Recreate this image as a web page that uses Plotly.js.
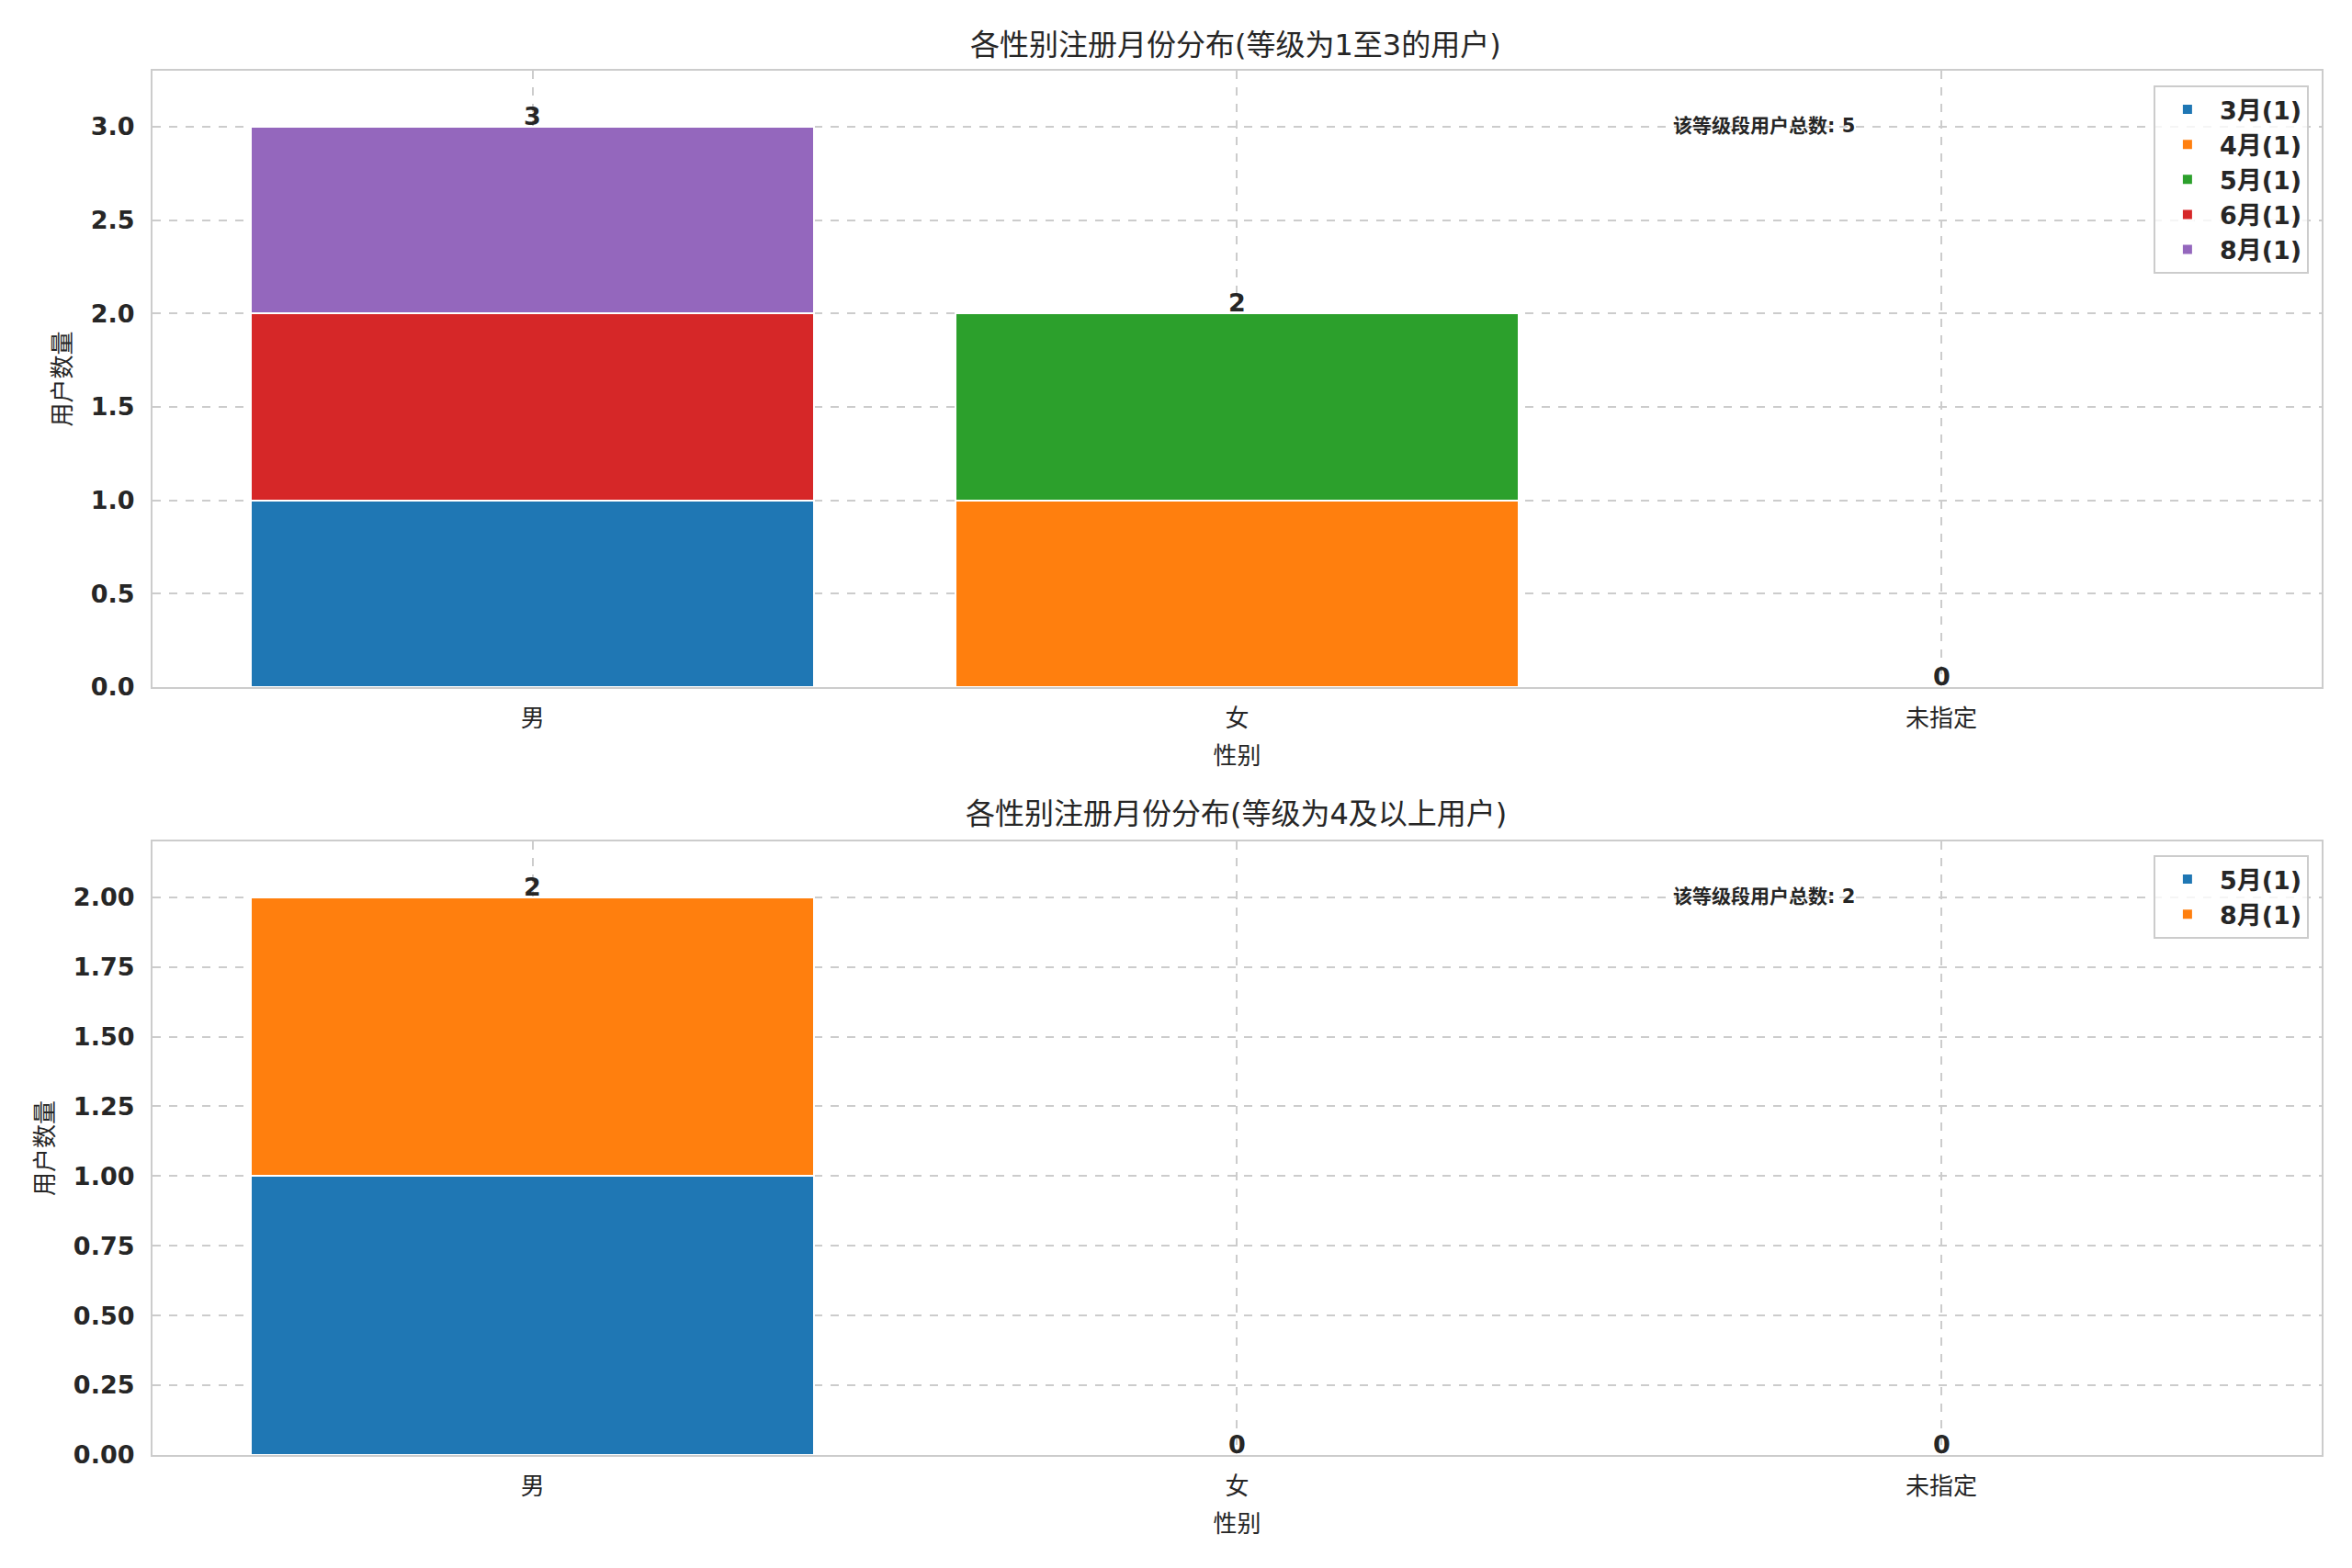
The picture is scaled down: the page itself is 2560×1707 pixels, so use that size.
<!DOCTYPE html>
<html>
<head>
<meta charset="utf-8">
<script src="https://cdn.plot.ly/plotly-3.0.1.min.js"></script>
<style>
  html, body { margin: 0; padding: 0; background: #fff; }
  #plot { width: 2560px; height: 1707px; }
</style>
</head>
<body>
<div id="plot"></div>
<script>
// categories and series
var genders = ['男', '女', '未指定'];

var topNames = ['3月(1)', '4月(1)', '5月(1)', '6月(1)', '8月(1)'];
var topMar = [1, 0, 0];
var topApr = [0, 1, 0];
var topMay = [0, 1, 0];
var topJun = [1, 0, 0];
var topAug = [1, 0, 0];
var topSeries = [topMar, topApr, topMay, topJun, topAug];
var topTotal = 5;

var bottomNames = ['5月(1)', '8月(1)'];
var bottomMay = [1, 0, 0];
var bottomAug = [1, 0, 0];
var bottomSeries = [bottomMay, bottomAug];
var bottomTotal = 2;

var colors = ['#1f77b4', '#ff7f0e', '#2ca02c', '#d62728', '#9467bd'];
var fontFamily = 'DejaVu Sans, Noto Sans CJK SC, sans-serif';
var ink = '#262626';

function sums(series) {
    return genders.map(function (g, i) {
        return series.reduce(function (s, arr) { return s + arr[i]; }, 0);
    });
}

// total labels above each stack
function totalLabels(series, xa, ya) {
    return sums(series).map(function (v, i) {
        return {
            text: String(v), x: genders[i], y: v, xref: xa, yref: ya,
            xanchor: 'center', yanchor: 'bottom', yshift: -6, showarrow: false,
            font: { family: fontFamily, size: 27, color: ink, weight: 'bold' }
        };
    });
}

var data = [];

topSeries.forEach(function (vals, k) {
    data.push({
        type: 'bar', x: genders, y: vals, name: topNames[k],
        xaxis: 'x', yaxis: 'y', legend: 'legend',
        width: 0.8,
        marker: { color: colors[k], line: { color: '#ffffff', width: 2 } }
    });
});

bottomSeries.forEach(function (vals, k) {
    data.push({
        type: 'bar', x: genders, y: vals, name: bottomNames[k],
        xaxis: 'x2', yaxis: 'y2', legend: 'legend2',
        width: 0.8,
        marker: { color: colors[k], line: { color: '#ffffff', width: 2 } }
    });
});

var xCommon = {
    range: [-0.54, 2.54],
    showline: true, mirror: true, linecolor: '#cccccc', linewidth: 2,
    showgrid: true, gridcolor: '#cccccc', griddash: 'dash', gridwidth: 2,
    zeroline: false, ticks: '', ticklabelstandoff: 10,
    tickfont: { family: fontFamily, size: 26, color: ink },
    title: { text: '性别', font: { family: fontFamily, size: 26, color: ink }, standoff: 18 }
};
var yCommon = {
    showline: true, mirror: true, linecolor: '#cccccc', linewidth: 2,
    showgrid: true, gridcolor: '#cccccc', griddash: 'dash', gridwidth: 2,
    zeroline: false, ticks: '', ticklabelstandoff: 12,
    tickfont: { family: fontFamily, size: 27, color: ink, weight: 'bold' },
    title: { text: '用户数量', font: { family: fontFamily, size: 26, color: ink }, standoff: 14 }
};

function merge(a, b) { return Object.assign({}, JSON.parse(JSON.stringify(a)), b); }

var legendCommon = {
    bgcolor: 'rgba(255,255,255,0.8)', bordercolor: '#cccccc', borderwidth: 2,
    font: { family: fontFamily, size: 27, color: ink, weight: 'bold' },
    xanchor: 'right', yanchor: 'top', x: 0.9816, traceorder: 'normal',
    tracegroupgap: 0, itemwidth: 60
};

var annotations = [
    { text: '各性别注册月份分布(等级为1至3的用户)', xref: 'paper', yref: 'paper',
      x: 0.5255, y: 0.9713, xanchor: 'center', yanchor: 'middle', showarrow: false,
      font: { family: fontFamily, size: 32, color: ink } },
    { text: '各性别注册月份分布(等级为4及以上用户)', xref: 'paper', yref: 'paper',
      x: 0.5255, y: 0.4810, xanchor: 'center', yanchor: 'middle', showarrow: false,
      font: { family: fontFamily, size: 32, color: ink } },
    { text: '该等级段用户总数: ' + topTotal, xref: 'x domain', yref: 'y domain',
      x: 0.70, y: 0.91, xanchor: 'left', yanchor: 'middle', showarrow: false,
      font: { family: fontFamily, size: 21, color: ink, weight: 'bold' } },
    { text: '该等级段用户总数: ' + bottomTotal, xref: 'x2 domain', yref: 'y2 domain',
      x: 0.70, y: 0.91, xanchor: 'left', yanchor: 'middle', showarrow: false,
      font: { family: fontFamily, size: 21, color: ink, weight: 'bold' } }
].concat(totalLabels(topSeries, 'x', 'y'), totalLabels(bottomSeries, 'x2', 'y2'));

var layout = {
    width: 2560, height: 1707,
    margin: { l: 0, r: 0, t: 0, b: 0 },
    paper_bgcolor: '#ffffff', plot_bgcolor: '#ffffff',
    barmode: 'stack',
    font: { family: fontFamily, color: ink },
    xaxis: merge(xCommon, { domain: [0.0648, 0.9871], anchor: 'y' }),
    yaxis: merge(yCommon, { domain: [0.5618, 0.9549], anchor: 'x', range: [0, 3.3], dtick: 0.5, tickformat: '.1f' }),
    xaxis2: merge(xCommon, { domain: [0.0648, 0.9871], anchor: 'y2' }),
    yaxis2: merge(yCommon, { domain: [0.0721, 0.4634], anchor: 'x2', range: [0, 2.2], dtick: 0.25, tickformat: '.2f' }),
    legend: merge(legendCommon, { y: 0.9455 }),
    legend2: merge(legendCommon, { y: 0.4546 }),
    annotations: annotations
};

Plotly.newPlot('plot', data, layout, { displayModeBar: false, staticPlot: true });
</script>
</body>
</html>
